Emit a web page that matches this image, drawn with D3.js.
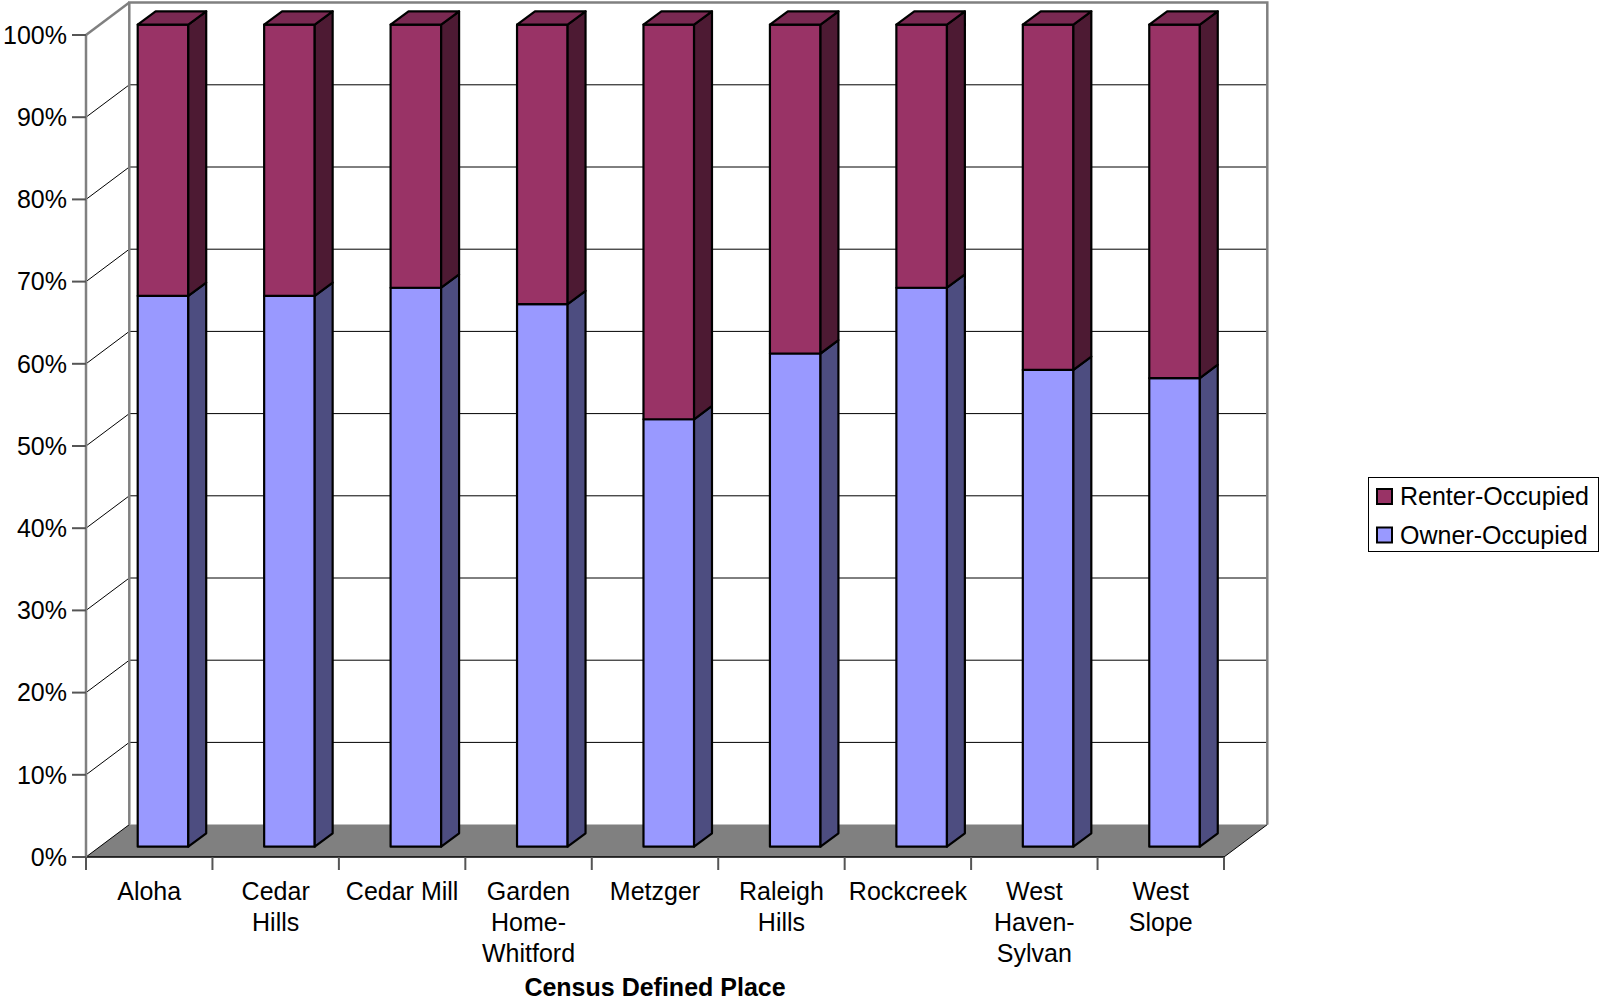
<!DOCTYPE html>
<html>
<head>
<meta charset="utf-8">
<script src="https://cdn.jsdelivr.net/npm/d3@7"></script>
<style>
  html, body { margin: 0; padding: 0; background: #fff; }
  svg { display: block; font-family: Arial, "Liberation Sans", Helvetica, sans-serif; }
</style>
</head>
<body>
<svg id="chart" width="1600" height="1002"></svg>
<script>
// ---- data ----
const categories = ["Aloha", "Cedar Hills", "Cedar Mill", "Garden Home-Whitford", "Metzger",
  "Raleigh Hills", "Rockcreek", "West Haven-Sylvan", "West Slope"];
const categoryLines = [["Aloha"], ["Cedar", "Hills"], ["Cedar Mill"], ["Garden", "Home-", "Whitford"],
  ["Metzger"], ["Raleigh", "Hills"], ["Rockcreek"], ["West", "Haven-", "Sylvan"], ["West", "Slope"]];
const ownerOccupied = [0.67, 0.67, 0.68, 0.66, 0.52, 0.60, 0.68, 0.58, 0.57];
const renterOccupied = [0.33, 0.33, 0.32, 0.34, 0.48, 0.40, 0.32, 0.42, 0.43];
const seriesNames = ["Renter-Occupied", "Owner-Occupied"];
const yTicks = [0, 0.1, 0.2, 0.3, 0.4, 0.5, 0.6, 0.7, 0.8, 0.9, 1.0];
const axisTitle = "Census Defined Place";

// ---- layout ----
const svg = d3.select("#chart");
const X0 = 86, X1 = 1224, Y0 = 857, Y1 = 35;
const DX = 43.3, DY = 32.4;              // full depth offset
const barD0 = 0.318, barDL = 0.414;      // bar depth start & length (fraction of depth)
const FONT = 25;

const x = d3.scaleBand().domain(categories).range([X0, X1]).padding(0);
const y = d3.scaleLinear().domain([0, 1]).range([Y0, Y1]);
const off = d => [DX * d, -DY * d];

const colors = {
  renter: { front: "#993366", side: "#4d1a33", top: "#7a2952" },
  owner:  { front: "#9999ff", side: "#4d4d80", top: "#7a7acc" }
};

// floor
svg.append("polygon")
  .attr("points", [[X0, Y0], [X1, Y0], [X1 + DX, Y0 - DY], [X0 + DX, Y0 - DY]].map(p => p.join(",")).join(" "))
  .attr("fill", "#808080");

// gridlines on back wall + left side wall
const grid = svg.append("g");
yTicks.filter(t => t > 0 && t < 1).forEach(t => {
  const yy = y(t);
  grid.append("line").attr("x1", X0 + DX).attr("x2", X1 + DX).attr("y1", yy - DY).attr("y2", yy - DY)
    .attr("stroke", "#000").attr("stroke-width", 1);
  grid.append("line").attr("x1", X0).attr("x2", X0 + DX).attr("y1", yy).attr("y2", yy - DY)
    .attr("stroke", "#000").attr("stroke-width", 1);
});

// back wall border
svg.append("path")
  .attr("d", `M${X0 + DX},${Y0 - DY} V${Y1 - DY} H${X1 + DX} V${Y0 - DY}`)
  .attr("fill", "none").attr("stroke", "#808080").attr("stroke-width", 2.5);
svg.append("line").attr("x1", X0).attr("y1", Y1).attr("x2", X0 + DX).attr("y2", Y1 - DY)
  .attr("stroke", "#808080").attr("stroke-width", 2.5);

// floor front edge and right edge
svg.append("line").attr("x1", X0).attr("x2", X1).attr("y1", Y0).attr("y2", Y0)
  .attr("stroke", "#000").attr("stroke-width", 1.5);
svg.append("line").attr("x1", X1).attr("y1", Y0).attr("x2", X1 + DX).attr("y2", Y0 - DY)
  .attr("stroke", "#000").attr("stroke-width", 1);
svg.append("line").attr("x1", X0).attr("y1", Y0).attr("x2", X0 + DX).attr("y2", Y0 - DY)
  .attr("stroke", "#000").attr("stroke-width", 1);

// y axis (front)
svg.append("line").attr("x1", X0).attr("x2", X0).attr("y1", Y1).attr("y2", Y0)
  .attr("stroke", "#808080").attr("stroke-width", 2.5);
const yAxis = svg.append("g");
yTicks.forEach(t => {
  yAxis.append("line").attr("x1", X0 - 14).attr("x2", X0).attr("y1", y(t)).attr("y2", y(t))
    .attr("stroke", "#555").attr("stroke-width", 2);
  yAxis.append("text").attr("x", X0 - 19).attr("y", y(t)).attr("dy", "0.35em")
    .attr("text-anchor", "end").attr("font-size", FONT).attr("fill", "#000")
    .text(d3.format(".0%")(t));
});

// x axis ticks
const xTickPos = categories.map(c => x(c)).concat([X1]);
xTickPos.forEach(px => {
  svg.append("line").attr("x1", px).attr("x2", px).attr("y1", Y0).attr("y2", Y0 + 13)
    .attr("stroke", "#555").attr("stroke-width", 2);
});

// bars
const bw = x.bandwidth() * 0.40;
const bars = svg.append("g");
function drawSegment(c, v0, v1, col, drawTop) {
  const [ox, oy] = off(barD0);
  const [ex, ey] = off(barDL);
  const xl = x(c) + (x.bandwidth() - bw) / 2 + ox;
  const xr = xl + bw;
  const yb = y(v0) + oy, yt = y(v1) + oy;
  const st = { stroke: "#000", "stroke-width": 2.2, "stroke-linejoin": "round" };
  const poly = (pts, fill) => {
    const p = bars.append("polygon").attr("points", pts.map(q => q.join(",")).join(" ")).attr("fill", fill);
    Object.entries(st).forEach(([k, val]) => p.attr(k, val));
  };
  poly([[xl, yb], [xr, yb], [xr, yt], [xl, yt]], col.front);
  poly([[xr, yb], [xr + ex, yb + ey], [xr + ex, yt + ey], [xr, yt]], col.side);
  if (drawTop) poly([[xl, yt], [xr, yt], [xr + ex, yt + ey], [xl + ex, yt + ey]], col.top);
}
categories.forEach((c, i) => {
  drawSegment(c, 0, ownerOccupied[i], colors.owner, false);
  drawSegment(c, ownerOccupied[i], ownerOccupied[i] + renterOccupied[i], colors.renter, true);
});

// category labels
categories.forEach((c, i) => {
  const cx = x(c) + x.bandwidth() / 2;
  const t = svg.append("text").attr("text-anchor", "middle").attr("font-size", FONT).attr("fill", "#000");
  categoryLines[i].forEach((ln, j) => {
    t.append("tspan").attr("x", cx).attr("y", 891.7 + j * 31).attr("dy", "0.35em").text(ln);
  });
});

// axis title
svg.append("text").attr("x", (X0 + X1) / 2).attr("y", 996)
  .attr("text-anchor", "middle").attr("font-size", FONT).attr("font-weight", "bold")
  .text(axisTitle);

// legend
const lg = svg.append("g");
lg.append("rect").attr("x", 1368.5).attr("y", 477.5).attr("width", 230).attr("height", 74)
  .attr("fill", "#fff").attr("stroke", "#000").attr("stroke-width", 1);
const legendColors = [colors.renter.front, colors.owner.front];
seriesNames.forEach((s, i) => {
  const cy = 496.5 + i * 38.5;
  lg.append("rect").attr("x", 1377).attr("y", cy - 7.5).attr("width", 15).attr("height", 15)
    .attr("fill", legendColors[i]).attr("stroke", "#000").attr("stroke-width", 2);
  lg.append("text").attr("x", 1400).attr("y", cy).attr("dy", "0.35em")
    .attr("font-size", FONT).attr("fill", "#000").text(s);
});
</script>
</body>
</html>
